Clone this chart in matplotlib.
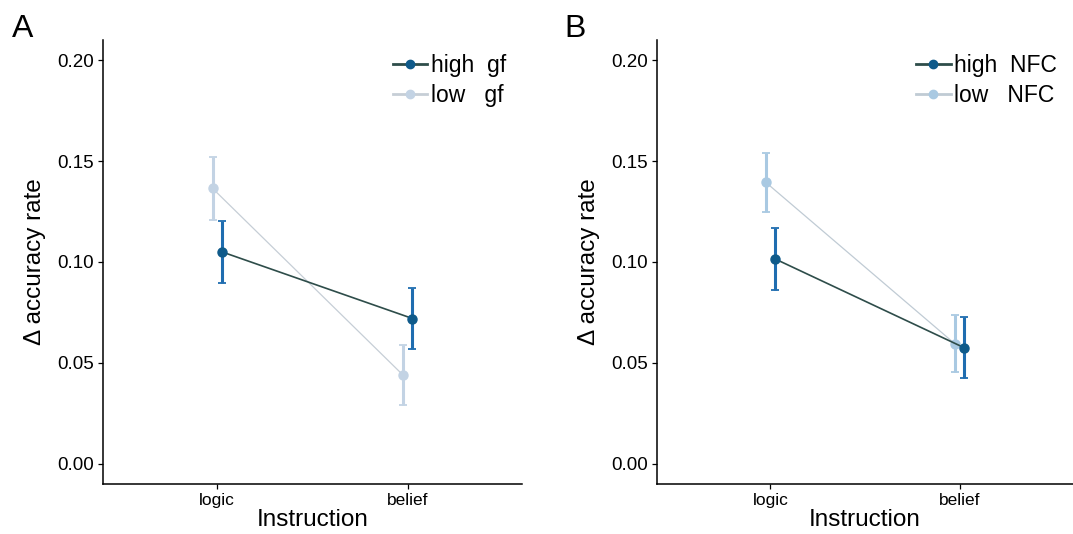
import matplotlib
matplotlib.use("Agg")
import matplotlib.pyplot as plt
import numpy as np
from matplotlib.lines import Line2D

plt.rcParams['font.family'] = ['Liberation Sans', 'DejaVu Sans']

categories = ["logic", "belief"]
groups = ["high", "low"]

# Panel A (gf)
a_high_mean = [0.105, 0.072]
a_high_se = [0.0155, 0.015]
a_low_mean = [0.1365, 0.044]
a_low_se = [0.0155, 0.015]

# Panel B (NFC)
b_high_mean = [0.1015, 0.0575]
b_high_se = [0.0155, 0.015]
b_low_mean = [0.1395, 0.0595]
b_low_se = [0.0145, 0.014]

yticks = [0.00, 0.05, 0.10, 0.15, 0.20]
ytick_labels = ["0.00", "0.05", "0.10", "0.15", "0.20"]

high_bar = "#1f6db0"
high_pt = "#0f5a8a"
high_line = "#2e4d4a"

W, H = 1073, 534
fig = plt.figure(figsize=(W/100, H/100), dpi=100)

def panel(rect, hm, hs, lm, ls, low_bar, low_line, tag, letter, letter_x):
    ax = fig.add_axes(rect)
    x = np.arange(1, len(categories) + 1)
    d = 0.025
    # low series (behind)
    ax.errorbar(x - d, lm, yerr=ls, fmt='none', ecolor=low_bar, elinewidth=2.2,
                capsize=3, capthick=1.3, zorder=2)
    ax.plot(x - d, lm, color=low_line, lw=0.9, zorder=2)
    ax.plot(x - d, lm, 'o', color=low_bar, ms=6.5, zorder=3)
    # high series
    ax.errorbar(x + d, hm, yerr=hs, fmt='none', ecolor=high_bar, elinewidth=2.2,
                capsize=3, capthick=1.3, zorder=4)
    ax.plot(x + d, hm, color=high_line, lw=1.2, zorder=4)
    ax.plot(x + d, hm, 'o', color=high_pt, ms=6.5, zorder=5)

    ax.set_xlim(0.4, 2.6)
    ax.set_ylim(-0.01, 0.21)
    ax.set_xticks(x)
    ax.set_xticklabels(categories, fontsize=12.5)
    ax.set_yticks(yticks)
    ax.set_yticklabels(ytick_labels, fontsize=13.5)
    for s in ['top', 'right']:
        ax.spines[s].set_visible(False)
    for s in ['left', 'bottom']:
        ax.spines[s].set_linewidth(1.1)
    ax.tick_params(length=3.5, width=0.9, pad=3)
    ax.set_xlabel("Instruction", fontsize=17.5, labelpad=1)
    ax.set_ylabel("Δ accuracy rate", fontsize=17.5, labelpad=8)

    handles = [
        Line2D([0], [0], color=high_line, lw=2.0, marker='o', ms=6, mfc=high_pt, mec=high_pt),
        Line2D([0], [0], color=low_line, lw=2.0, marker='o', ms=6, mfc=low_bar, mec=low_bar),
    ]
    labels = [f"high  {tag}", f"low   {tag}"]
    ax.legend(handles, labels, loc='upper right', bbox_to_anchor=(1.0, 1.005),
              frameon=False, fontsize=16.5, handlelength=1.5, handletextpad=0.15,
              labelspacing=0.3, borderaxespad=0.3)
    fig.text(letter_x, 1 - 37/H, letter, fontsize=23, ha='left', va='baseline')
    return ax

axA = panel([103/W, 50/H, 419/W, 444/H], a_high_mean, a_high_se, a_low_mean, a_low_se,
            "#c3d3e4", "#c6ced6", "gf", "A", 12/W)
axB = panel([657/W, 50/H, 416/W, 444/H], b_high_mean, b_high_se, b_low_mean, b_low_se,
            "#a9c9e2", "#c0cbd4", "NFC", "B", 564/W)

fig.savefig("out.png", dpi=100)
